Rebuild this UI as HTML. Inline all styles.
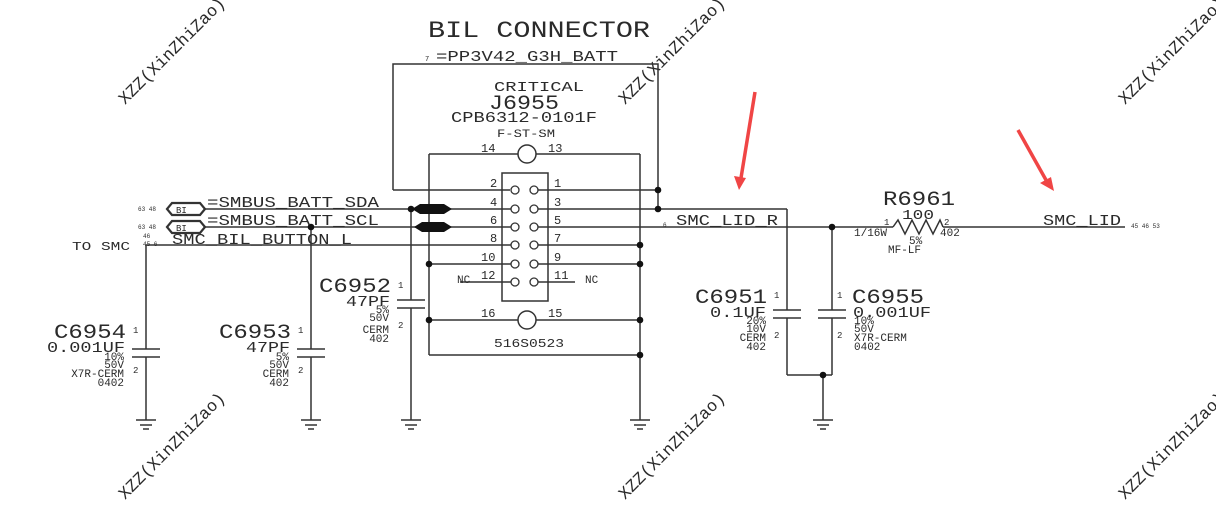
<!DOCTYPE html>
<html><head><meta charset="utf-8"><style>
html,body{margin:0;padding:0;background:#fff;}
svg{display:block;}
text{font-family:"Liberation Mono",monospace;fill:#2a2a2a;}
.w{fill:#f2f2f2;font-family:"Liberation Sans",sans-serif;font-size:17px;}
</style></head><body>
<svg width="1216" height="507" viewBox="0 0 1216 507" xmlns="http://www.w3.org/2000/svg">
<g class="w">
<text transform="translate(125,105) rotate(-45)">XZZ(XinZhiZao)</text>
<text transform="translate(625,105) rotate(-45)">XZZ(XinZhiZao)</text>
<text transform="translate(1125,105) rotate(-45)">XZZ(XinZhiZao)</text>
<text transform="translate(125,500) rotate(-45)">XZZ(XinZhiZao)</text>
<text transform="translate(625,500) rotate(-45)">XZZ(XinZhiZao)</text>
<text transform="translate(1125,500) rotate(-45)">XZZ(XinZhiZao)</text>
</g>
<g stroke="#333" stroke-width="1.5" fill="none">
<polyline points="393,190 393,64 658,64 658,190"/>
<line x1="393" y1="190" x2="510" y2="190"/>
<rect x="502" y="173" width="46" height="128"/>
<line x1="429" y1="154" x2="518" y2="154"/><line x1="536" y1="154" x2="640" y2="154"/>
<circle cx="527" cy="154" r="9"/>
<line x1="429" y1="320" x2="518" y2="320"/><line x1="536" y1="320" x2="640" y2="320"/>
<circle cx="527" cy="320" r="9"/>
<line x1="429" y1="154" x2="429" y2="355"/>
<line x1="640" y1="154" x2="640" y2="420"/>
<line x1="429" y1="355" x2="640" y2="355"/>
<g stroke-width="1.3">
<circle cx="515" cy="190" r="4"/><circle cx="534" cy="190" r="4"/>
<circle cx="515" cy="209" r="4"/><circle cx="534" cy="209" r="4"/>
<circle cx="515" cy="227" r="4"/><circle cx="534" cy="227" r="4"/>
<circle cx="515" cy="245" r="4"/><circle cx="534" cy="245" r="4"/>
<circle cx="515" cy="264" r="4"/><circle cx="534" cy="264" r="4"/>
<circle cx="515" cy="282" r="4"/><circle cx="534" cy="282" r="4"/>
</g>
<line x1="538" y1="190" x2="658" y2="190"/>
<line x1="538" y1="209" x2="787" y2="209"/>
<line x1="538" y1="227" x2="1125" y2="227"/>
<line x1="538" y1="245" x2="640" y2="245"/>
<line x1="538" y1="264" x2="640" y2="264"/>
<line x1="538" y1="282" x2="575" y2="282"/>
<line x1="658" y1="190" x2="658" y2="209"/>
<line x1="205" y1="209" x2="511" y2="209"/>
<line x1="205" y1="227" x2="511" y2="227"/>
<line x1="146" y1="245" x2="511" y2="245"/>
<line x1="429" y1="264" x2="511" y2="264"/>
<line x1="460" y1="282" x2="511" y2="282"/>
<line x1="146" y1="245" x2="146" y2="349"/><line x1="146" y1="357" x2="146" y2="420"/>
<line x1="132" y1="349" x2="160" y2="349"/><line x1="132" y1="357" x2="160" y2="357"/>
<line x1="311" y1="227" x2="311" y2="349"/><line x1="311" y1="357" x2="311" y2="420"/>
<line x1="297" y1="349" x2="325" y2="349"/><line x1="297" y1="357" x2="325" y2="357"/>
<line x1="411" y1="209" x2="411" y2="300"/><line x1="411" y1="308" x2="411" y2="420"/>
<line x1="397" y1="300" x2="425" y2="300"/><line x1="397" y1="308" x2="425" y2="308"/>
<line x1="787" y1="209" x2="787" y2="310"/><line x1="787" y1="318" x2="787" y2="375"/>
<line x1="773" y1="310" x2="801" y2="310"/><line x1="773" y1="318" x2="801" y2="318"/>
<line x1="832" y1="227" x2="832" y2="310"/><line x1="832" y1="318" x2="832" y2="375"/>
<line x1="818" y1="310" x2="846" y2="310"/><line x1="818" y1="318" x2="846" y2="318"/>
<line x1="787" y1="375" x2="832" y2="375"/>
<line x1="823" y1="375" x2="823" y2="420"/>
<g>
<path d="M136,420h20M140,425h12M143,429h6"/>
<path d="M301,420h20M305,425h12M308,429h6"/>
<path d="M401,420h20M405,425h12M408,429h6"/>
<path d="M630,420h20M634,425h12M637,429h6"/>
<path d="M813,420h20M817,425h12M820,429h6"/>
</g>
<path d="M172,203h28l5,6l-5,6h-28l-5,-6z" stroke-width="2.2"/>
<path d="M172,221h28l5,6l-5,6h-28l-5,-6z" stroke-width="2.2"/>
</g>
<rect x="893" y="220" width="50" height="14" fill="#fff"/>
<polyline points="893,227 898,220 905,234 912,220 919,234 926,220 933,234 940,220 943,227" fill="none" stroke="#333" stroke-width="1.5"/>
<g fill="#111">
<path d="M412,209l8,-5h24l8,5l-8,5h-24z"/>
<path d="M414,227l8,-5h22l8,5l-8,5h-22z"/>
</g>
<g fill="#111">
<circle cx="658" cy="190" r="3.3"/><circle cx="658" cy="209" r="3.3"/>
<circle cx="411" cy="209" r="3.3"/><circle cx="311" cy="227" r="3.3"/>
<circle cx="640" cy="245" r="3.3"/><circle cx="640" cy="264" r="3.3"/>
<circle cx="429" cy="264" r="3.3"/><circle cx="429" cy="320" r="3.3"/>
<circle cx="640" cy="320" r="3.3"/><circle cx="640" cy="355" r="3.3"/>
<circle cx="832" cy="227" r="3.3"/><circle cx="823" cy="375" r="3.3"/>
</g>
<g stroke="#f04545" stroke-width="3.5" fill="#f04545">
<line x1="755" y1="92" x2="741" y2="178"/>
<path d="M734,176l12,2l-7,12z" stroke="none"/>
<line x1="1018" y1="130" x2="1046" y2="180"/>
<path d="M1040,183l11,-6l3,14z" stroke="none"/>
</g>
<text x="428" y="37" font-size="23" textLength="222" lengthAdjust="spacingAndGlyphs">BIL CONNECTOR</text>
<text x="425" y="61" font-size="7">7</text>
<text x="436" y="61" font-size="15" textLength="182" lengthAdjust="spacingAndGlyphs">=PP3V42_G3H_BATT</text>
<text x="494" y="91" font-size="14" textLength="90" lengthAdjust="spacingAndGlyphs">CRITICAL</text>
<text x="489" y="109" font-size="20" textLength="70" lengthAdjust="spacingAndGlyphs">J6955</text>
<text x="451" y="122" font-size="15" textLength="146" lengthAdjust="spacingAndGlyphs">CPB6312-0101F</text>
<text x="497" y="137" font-size="11" textLength="58" lengthAdjust="spacingAndGlyphs">F-ST-SM</text>
<g font-size="12">
<text x="481" y="152">14</text><text x="548" y="152">13</text>
<text x="490" y="187">2</text><text x="554" y="187">1</text>
<text x="490" y="206">4</text><text x="554" y="206">3</text>
<text x="490" y="224">6</text><text x="554" y="224">5</text>
<text x="490" y="242">8</text><text x="554" y="242">7</text>
<text x="481" y="261">10</text><text x="554" y="261">9</text>
<text x="481" y="279">12</text><text x="554" y="279">11</text>
<text x="481" y="317">16</text><text x="548" y="317">15</text>
</g>
<text x="457" y="283" font-size="11">NC</text>
<text x="585" y="283" font-size="11">NC</text>
<text x="494" y="347" font-size="12" textLength="70" lengthAdjust="spacingAndGlyphs">516S0523</text>
<g font-size="6" fill="#555">
<text x="138" y="211">63 48</text><text x="138" y="229">63 48</text>
<text x="143" y="238">46</text><text x="143" y="246">45 6</text>
<text x="663" y="227">6</text>
<text x="1131" y="228">45 46 53</text>
</g>
<text x="176" y="213" font-size="9">BI</text>
<text x="176" y="231" font-size="9">BI</text>
<text x="207" y="207" font-size="15" textLength="172" lengthAdjust="spacingAndGlyphs">=SMBUS_BATT_SDA</text>
<text x="207" y="225" font-size="15" textLength="172" lengthAdjust="spacingAndGlyphs">=SMBUS_BATT_SCL</text>
<text x="172" y="244" font-size="15" textLength="180" lengthAdjust="spacingAndGlyphs">SMC_BIL_BUTTON_L</text>
<text x="72" y="250" font-size="12" textLength="58" lengthAdjust="spacingAndGlyphs">TO SMC</text>
<text x="676" y="225" font-size="15" textLength="102" lengthAdjust="spacingAndGlyphs">SMC_LID_R</text>
<text x="1043" y="225" font-size="15" textLength="78" lengthAdjust="spacingAndGlyphs">SMC_LID</text>
<text x="883" y="205" font-size="20" textLength="72" lengthAdjust="spacingAndGlyphs">R6961</text>
<text x="902" y="219" font-size="14" textLength="32" lengthAdjust="spacingAndGlyphs">100</text>
<text x="884" y="225" font-size="9">1</text><text x="944" y="225" font-size="9">2</text>
<text x="854" y="236" font-size="11">1/16W</text><text x="940" y="236" font-size="11">402</text>
<text x="909" y="244" font-size="11">5%</text>
<text x="888" y="253" font-size="11">MF-LF</text>
<text x="54" y="338" font-size="20" textLength="72" lengthAdjust="spacingAndGlyphs">C6954</text>
<text x="47" y="352" font-size="15" textLength="78" lengthAdjust="spacingAndGlyphs">0.001UF</text>
<g font-size="11" text-anchor="end">
<text x="124" y="360">10%</text><text x="124" y="368">50V</text><text x="124" y="377">X7R-CERM</text><text x="124" y="386">0402</text>
<text x="289" y="360">5%</text><text x="289" y="368">50V</text><text x="289" y="377">CERM</text><text x="289" y="386">402</text>
<text x="389" y="313">5%</text><text x="389" y="321">50V</text><text x="389" y="333">CERM</text><text x="389" y="342">402</text>
<text x="766" y="324">20%</text><text x="766" y="332">10V</text><text x="766" y="341">CERM</text><text x="766" y="350">402</text>
</g>
<g font-size="11">
<text x="854" y="324">10%</text><text x="854" y="332">50V</text><text x="854" y="341">X7R-CERM</text><text x="854" y="350">0402</text>
</g>
<text x="219" y="338" font-size="20" textLength="72" lengthAdjust="spacingAndGlyphs">C6953</text>
<text x="246" y="352" font-size="15" textLength="44" lengthAdjust="spacingAndGlyphs">47PF</text>
<text x="319" y="292" font-size="20" textLength="72" lengthAdjust="spacingAndGlyphs">C6952</text>
<text x="346" y="306" font-size="15" textLength="44" lengthAdjust="spacingAndGlyphs">47PF</text>
<text x="695" y="303" font-size="20" textLength="72" lengthAdjust="spacingAndGlyphs">C6951</text>
<text x="710" y="317" font-size="15" textLength="56" lengthAdjust="spacingAndGlyphs">0.1UF</text>
<text x="852" y="303" font-size="20" textLength="72" lengthAdjust="spacingAndGlyphs">C6955</text>
<text x="853" y="317" font-size="15" textLength="78" lengthAdjust="spacingAndGlyphs">0.001UF</text>
<g font-size="9" fill="#444">
<text x="133" y="333">1</text><text x="133" y="373">2</text>
<text x="298" y="333">1</text><text x="298" y="373">2</text>
<text x="398" y="288">1</text><text x="398" y="328">2</text>
<text x="774" y="298">1</text><text x="774" y="338">2</text>
<text x="837" y="298">1</text><text x="837" y="338">2</text>
</g>
</svg>
</body></html>
